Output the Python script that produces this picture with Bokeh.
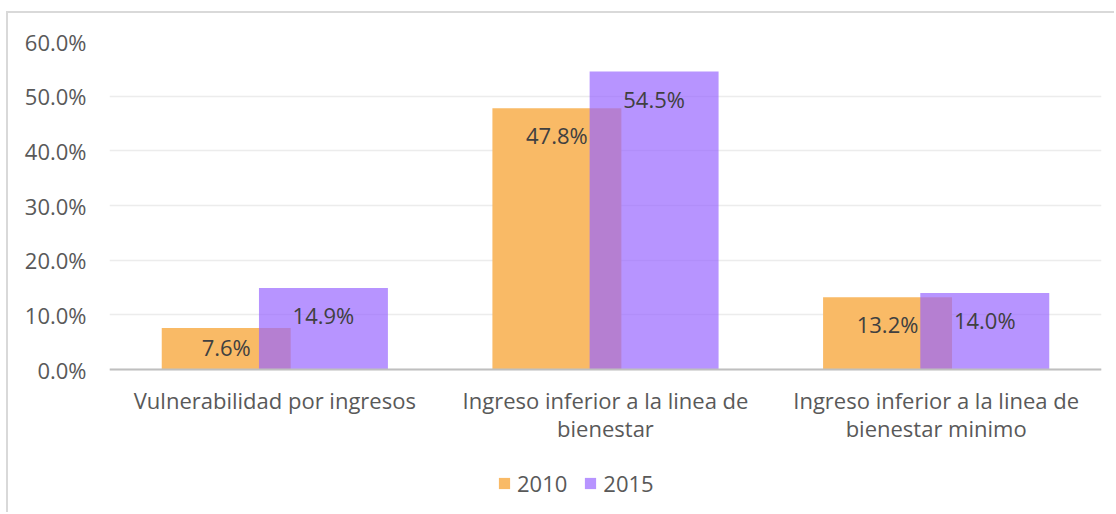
from bokeh.plotting import figure
from bokeh.models import (FactorRange, Range1d, FixedTicker, Legend, LegendItem,
                          ColumnDataSource)
from bokeh.transform import dodge
from bokeh.core.properties import value
from bokeh.embed import file_html
from bokeh.resources import INLINE

categories = ["Vulnerabilidad por ingresos",
              "Ingreso inferior a la linea de\nbienestar",
              "Ingreso inferior a la linea de\nbienestar minimo"]
series_names = ["2010", "2015"]
values_2010 = [7.6, 47.8, 13.2]
values_2015 = [14.9, 54.5, 14.0]
y_ticks = [0, 10, 20, 30, 40, 50, 60]
y_tick_labels = ["0.0%", "10.0%", "20.0%", "30.0%", "40.0%", "50.0%", "60.0%"]

FONT = "Open Sans"
FS = "22px"
ORANGE = "#F9BA66"
PURPLE = "#9966FF"

W, H = 1108, 501
TOP, LEFT, RIGHT = 28, 101, 15
PX_PER_UNIT = 328 / 60.0
frame_h = H - TOP
y_min = 60 - frame_h / PX_PER_UNIT

def label_y(v):
    return v - min(27 / PX_PER_UNIT, v * 0.45)

src = ColumnDataSource(dict(
    cat=categories,
    v2010=values_2010,
    v2015=values_2015,
    l2010=["%.1f%%" % v for v in values_2010],
    l2015=["%.1f%%" % v for v in values_2015],
    y2010=[label_y(v) for v in values_2010],
    y2015=[label_y(v) for v in values_2015],
))

p = figure(x_range=FactorRange(*categories, range_padding=0),
           y_range=Range1d(y_min, 60),
           width=W, height=H,
           output_backend="svg", toolbar_location=None,
           min_border_left=LEFT, min_border_right=RIGHT,
           min_border_top=TOP, min_border_bottom=0,
           styles={"margin-left": "6px", "margin-top": "11px",
                   "border-left": "2px solid #d9d9d9", "border-top": "2px solid #d9d9d9"})
p.outline_line_color = None
p.background_fill_color = "white"
p.border_fill_color = "white"

off = 0.147
w = 0.39
r1 = p.vbar(x=dodge("cat", -off, range=p.x_range), top="v2010", bottom=0, width=w, source=src,
            fill_color=ORANGE, line_color=None)
r2 = p.vbar(x=dodge("cat", off, range=p.x_range), top="v2015", bottom=0, width=w, source=src,
            fill_color=PURPLE, fill_alpha=0.7, line_color=None)

p.text(x=dodge("cat", -off, range=p.x_range), y="y2010", text="l2010", source=src,
       text_align="center", text_baseline="middle", text_font=value(FONT),
       text_font_size=FS, text_color="#404040")
p.text(x=dodge("cat", off, range=p.x_range), y="y2015", text="l2015", source=src,
       text_align="center", text_baseline="middle", text_font=value(FONT),
       text_font_size=FS, text_color="#404040")

# axes
p.yaxis.ticker = FixedTicker(ticks=y_ticks)
p.yaxis.major_label_overrides = {t: l for t, l in zip(y_ticks, y_tick_labels)}
p.yaxis.axis_line_color = None
p.yaxis.major_tick_line_color = None
p.yaxis.minor_tick_line_color = None
p.yaxis.major_label_standoff = 17
p.yaxis.major_label_text_font = FONT
p.yaxis.major_label_text_font_size = FS
p.yaxis.major_label_text_color = "#595959"

p.xaxis.fixed_location = 0
p.xaxis.axis_line_color = "#bfbfbf"
p.xaxis.axis_line_width = 2
p.xaxis.major_tick_line_color = None
p.xaxis.minor_tick_line_color = None
p.xaxis.major_label_standoff = 9
p.xaxis.major_label_text_font = FONT
p.xaxis.major_label_text_font_size = FS
p.xaxis.major_label_text_line_height = 0.96
p.xaxis.major_label_text_color = "#595959"
p.xaxis.major_label_orientation = "horizontal"

p.xgrid.grid_line_color = None
p.ygrid.grid_line_color = "#ececec"
p.ygrid.grid_line_width = 1.5
p.ygrid.ticker = FixedTicker(ticks=y_ticks)

legend = Legend(items=[LegendItem(label=series_names[0], renderers=[r1]),
                       LegendItem(label=series_names[1], renderers=[r2])],
                orientation="horizontal", location=(388, 16),
                padding=0, margin=0, spacing=16, label_standoff=6,
                glyph_width=14, glyph_height=14, label_height=20,
                label_text_font=FONT, label_text_font_size=FS,
                label_text_color="#595959",
                border_line_color=None, background_fill_alpha=0)
p.add_layout(legend, "center")

open("out.html", "w").write(file_html(p, INLINE))
